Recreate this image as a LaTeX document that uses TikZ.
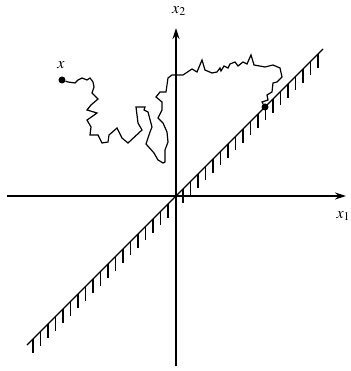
\documentclass[tikz,border=0pt]{standalone}
\usepackage{mathptmx}
\usetikzlibrary{arrows.meta}
\begin{document}
\begin{tikzpicture}[x=1pt,y=1pt,
    axis/.style={line width=1.5pt,-{Stealth[length=11pt,width=7pt]}},
    walk/.style={line width=1.2pt,line join=miter},
    label/.style={font=\fontsize{16}{19}\selectfont},
    dot/.style={circle,fill,inner sep=0pt,minimum size=7pt}]
    % Canvas
    \useasboundingbox (-176,-175) rectangle (174,196);
    \def\ticklen{14}

    % Axes
    \coordinate (xl) at (-169,0);
    \coordinate (xr) at (170,0);
    \coordinate (yb) at (0,-170);
    \coordinate (yt) at (0,168);
    \draw[axis] (xl) -- (xr);
    \draw[axis] (yb) -- (yt);
    \node[label,anchor=west] (lx1) at (157,-20) {$x_1$};
    \node[label] (lx2) at (3,185) {$x_2$};

    % Boundary line with hatching below
    \coordinate (bl) at (-149,-149);
    \coordinate (bu) at (147,147);
    \draw[line width=1.2pt] (bl) -- (bu);
    \foreach \t in {-143,-135.5,...,142}
        \draw[line width=1.4pt] (\t,\t) -- (\t,\t-\ticklen);

    % Random path from x until it hits the boundary
    \node[dot] (start) at (-114,116) {};
    \node[dot] (hit) at (89,89) {};
    \node[label] (lx) at (-115,131) {$x$};
    \draw[walk] (start) -- (-108,114) -- (-101,113) -- (-98,116) -- (-94,118)
        -- (-89,116) -- (-86,118) -- (-83,114) -- (-82,109) -- (-84,103)
        -- (-78,97) -- (-85,91) -- (-89,86) -- (-79,83) -- (-86,78)
        -- (-89,76) -- (-85,69) -- (-86,61) -- (-78,61) -- (-74,53)
        -- (-68,54) -- (-67,61) -- (-59,68) -- (-54,58) -- (-48,53)
        -- (-34,66) -- (-38,73) -- (-39,81) -- (-40,89) -- (-31,89)
        -- (-32,86) -- (-28,84) -- (-24,69) -- (-26,64) -- (-30,52)
        -- (-22,43) -- (-18,36) -- (-13,33) -- (-11,34) -- (-11,46)
        -- (-8,54) -- (-9,64) -- (-13,73) -- (-18,78) -- (-14,86)
        -- (-14,94) -- (-20,99) -- (-16,104) -- (-10,104) -- (-8,118)
        -- (-4,121) -- (7,121) -- (16,127) -- (21,124) -- (26,136)
        -- (29,126) -- (36,123) -- (41,124) -- (44,128) -- (45,125)
        -- (48,130) -- (52,128) -- (54,132) -- (59,134) -- (62,130)
        -- (67,134) -- (71,132) -- (75,141) -- (78,131) -- (89,129)
        -- (97,131) -- (104,128) -- (106,119) -- (101,114) -- (97,113)
        -- (96,104) -- (91,101) -- (92,96) -- (86,94) -- (hit);
\end{tikzpicture}
\end{document}
